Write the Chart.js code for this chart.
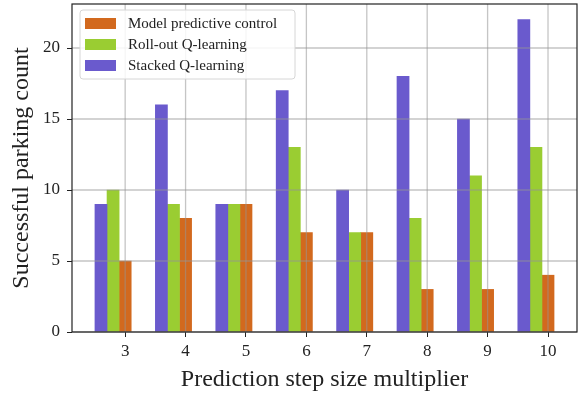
<!DOCTYPE html>
<html lang="en">
<head>
<meta charset="utf-8">
<title>Parking count</title>
<script src="https://cdn.jsdelivr.net/npm/chart.js@4.4.0/dist/chart.umd.min.js"></script>
<style>
    body { margin: 0; background: #fff; }
</style>
</head>
<body>
<canvas id="myChart" width="581" height="394"></canvas>
<script>
// values
var steps = [3, 4, 5, 6, 7, 8, 9, 10];
var stackedQ = [9, 16, 9, 17, 10, 18, 15, 22];
var rolloutQ = [10, 9, 9, 13, 7, 8, 11, 13];
var mpc = [5, 8, 9, 7, 7, 3, 3, 4];
var yTicks = [0, 5, 10, 15, 20];

var FONT = "'Liberation Serif', 'DejaVu Serif', serif";

// bars sit left of the tick, the last one right on it (like the matplotlib original)
function series(values, shift) {
    return values.map(function (v, i) { return { x: steps[i] + shift, y: v }; });
}

var datasets = [
    { label: 'Stacked Q-learning', data: series(stackedQ, -0.4), backgroundColor: '#6a5acd' },
    { label: 'Roll-out Q-learning', data: series(rolloutQ, -0.2), backgroundColor: '#9acd32' },
    { label: 'Model predictive control', data: series(mpc, 0), backgroundColor: '#d2691e' }
];
datasets.forEach(function (d) {
    d.grouped = false;
    d.barPercentage = 1;
    d.categoryPercentage = 1;
    d.borderWidth = 0;
});

// grid goes over the bars, so it is drawn here instead of by the scales
var gridOnTop = {
    id: 'gridOnTop',
    afterDatasetsDraw: function (chart) {
        var ctx = chart.ctx, a = chart.chartArea;
        ctx.save();
        ctx.strokeStyle = 'rgba(150,150,150,0.55)';
        ctx.lineWidth = 1.3;
        chart.scales.x.ticks.forEach(function (t) {
            var px = chart.scales.x.getPixelForValue(t.value);
            ctx.beginPath(); ctx.moveTo(px, a.top); ctx.lineTo(px, a.bottom); ctx.stroke();
        });
        chart.scales.y.ticks.forEach(function (t) {
            var py = chart.scales.y.getPixelForValue(t.value);
            ctx.beginPath(); ctx.moveTo(a.left, py); ctx.lineTo(a.right, py); ctx.stroke();
        });
        ctx.restore();
    },
    afterDraw: function (chart) {
        var ctx = chart.ctx, a = chart.chartArea;
        ctx.save();
        // frame
        ctx.strokeStyle = '#222';
        ctx.lineWidth = 1.2;
        ctx.strokeRect(a.left, a.top, a.right - a.left, a.bottom - a.top);

        // legend box, upper left, entries in reverse order
        var x0 = a.left + 8, y0 = a.top + 6, w = 215, h = 69;
        ctx.beginPath();
        ctx.roundRect(x0, y0, w, h, 3);
        ctx.fillStyle = 'rgba(255,255,255,0.85)';
        ctx.fill();
        ctx.strokeStyle = '#d6d6d6';
        ctx.lineWidth = 1;
        ctx.stroke();
        ctx.font = '15px ' + FONT;
        ctx.textBaseline = 'middle';
        var items = chart.data.datasets.slice().reverse();
        items.forEach(function (d, i) {
            var cy = y0 + 13.5 + i * 21;
            ctx.fillStyle = d.backgroundColor;
            ctx.fillRect(x0 + 5, cy - 5.5, 31, 11);
            ctx.fillStyle = '#222';
            ctx.fillText(d.label, x0 + 48, cy + 1);
        });
        ctx.restore();
    }
};

new Chart(document.getElementById('myChart'), {
    type: 'bar',
    data: { datasets: datasets },
    options: {
        responsive: false,
        devicePixelRatio: 1,
        animation: false,
        layout: { padding: { top: 4, right: 4, left: 0, bottom: 0 } },
        plugins: { legend: { display: false }, tooltip: { enabled: false } },
        scales: {
            x: {
                type: 'linear',
                offset: false,
                min: 2.12,
                max: 10.48,
                afterBuildTicks: function (s) { s.ticks = steps.map(function (v) { return { value: v }; }); },
                afterFit: function (s) { s.height = 62; s.paddingLeft = 0; s.paddingRight = 0; },
                grid: { offset: false, drawOnChartArea: false, tickLength: 5, tickColor: '#222', tickWidth: 1 },
                border: { display: false },
                ticks: { color: '#222', font: { family: FONT, size: 17 }, padding: 4, maxRotation: 0, autoSkip: false },
                title: { display: true, text: 'Prediction step size multiplier', color: '#222', font: { family: FONT, size: 24 }, padding: { top: 0, bottom: 0 } }
            },
            y: {
                min: 0,
                max: 23.1,
                afterBuildTicks: function (s) { s.ticks = yTicks.map(function (v) { return { value: v }; }); },
                afterFit: function (s) { s.width = 72; s.paddingTop = 0; s.paddingBottom = 0; },
                grid: { drawOnChartArea: false, tickLength: 5, tickColor: '#222', tickWidth: 1 },
                border: { display: false },
                ticks: { color: '#222', font: { family: FONT, size: 17 }, padding: 7 },
                title: { display: true, text: 'Successful parking count', color: '#222', font: { family: FONT, size: 24 }, padding: { top: 7, bottom: 0 } }
            }
        }
    },
    plugins: [gridOnTop]
});
</script>
</body>
</html>
